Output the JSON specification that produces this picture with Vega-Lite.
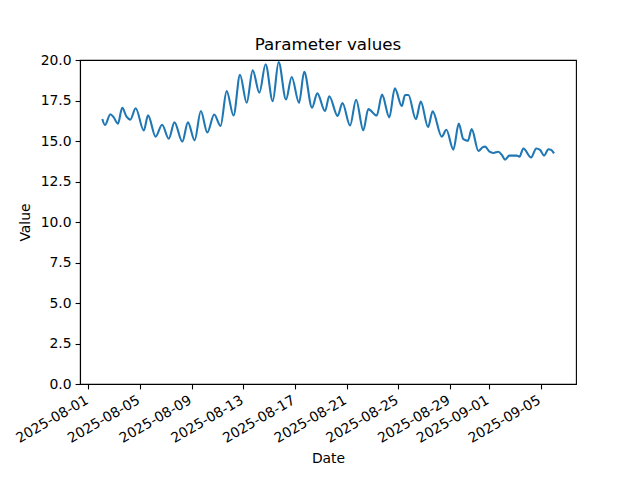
{
  "$schema": "https://vega.github.io/schema/vega-lite/v6.json",
  "width": 496,
  "height": 324,
  "autosize": "none",
  "padding": {"left": 80, "top": 60, "right": 64, "bottom": 96},
  "background": "white",
  "title": {"text": "Parameter values", "fontSize": 16.7, "font": "DejaVu Sans", "fontWeight": "normal", "color": "black", "offset": -14, "baseline": "alphabetic"},
  "data": {
    "values": [
      {"date": "2025-08-02T02:00:00Z", "value": 16.36},
      {"date": "2025-08-02T07:00:00Z", "value": 15.99},
      {"date": "2025-08-02T17:00:00Z", "value": 16.65},
      {"date": "2025-08-02T23:00:00Z", "value": 16.47},
      {"date": "2025-08-03T07:00:00Z", "value": 16.07},
      {"date": "2025-08-03T15:00:00Z", "value": 17.05},
      {"date": "2025-08-03T23:00:00Z", "value": 16.5},
      {"date": "2025-08-04T06:00:00Z", "value": 16.32},
      {"date": "2025-08-04T16:00:00Z", "value": 17.02},
      {"date": "2025-08-05T07:00:00Z", "value": 15.65},
      {"date": "2025-08-05T15:00:00Z", "value": 16.58},
      {"date": "2025-08-06T05:00:00Z", "value": 15.27},
      {"date": "2025-08-06T17:00:00Z", "value": 16.0},
      {"date": "2025-08-07T05:30:00Z", "value": 15.14},
      {"date": "2025-08-07T16:00:00Z", "value": 16.15},
      {"date": "2025-08-08T06:40:00Z", "value": 14.96},
      {"date": "2025-08-08T17:00:00Z", "value": 16.15},
      {"date": "2025-08-09T05:30:00Z", "value": 15.04},
      {"date": "2025-08-09T17:00:00Z", "value": 16.85},
      {"date": "2025-08-10T05:00:00Z", "value": 15.53},
      {"date": "2025-08-10T17:50:00Z", "value": 16.64},
      {"date": "2025-08-11T05:30:00Z", "value": 15.93},
      {"date": "2025-08-11T17:00:00Z", "value": 18.08},
      {"date": "2025-08-12T05:45:00Z", "value": 16.57},
      {"date": "2025-08-12T17:45:00Z", "value": 19.08},
      {"date": "2025-08-13T06:10:00Z", "value": 17.36},
      {"date": "2025-08-13T17:20:00Z", "value": 19.36},
      {"date": "2025-08-14T05:45:00Z", "value": 17.98},
      {"date": "2025-08-14T17:15:00Z", "value": 19.74},
      {"date": "2025-08-15T06:30:00Z", "value": 17.46},
      {"date": "2025-08-15T17:30:00Z", "value": 19.87},
      {"date": "2025-08-16T07:10:00Z", "value": 17.56},
      {"date": "2025-08-16T17:45:00Z", "value": 18.95},
      {"date": "2025-08-17T07:20:00Z", "value": 17.36},
      {"date": "2025-08-17T17:00:00Z", "value": 19.27},
      {"date": "2025-08-18T07:30:00Z", "value": 17.06},
      {"date": "2025-08-18T17:20:00Z", "value": 17.94},
      {"date": "2025-08-19T07:40:00Z", "value": 16.85},
      {"date": "2025-08-19T15:30:00Z", "value": 17.76},
      {"date": "2025-08-20T07:00:00Z", "value": 16.55},
      {"date": "2025-08-20T16:00:00Z", "value": 17.35},
      {"date": "2025-08-21T06:10:00Z", "value": 15.96},
      {"date": "2025-08-21T17:20:00Z", "value": 17.55},
      {"date": "2025-08-22T06:45:00Z", "value": 15.66},
      {"date": "2025-08-22T16:00:00Z", "value": 16.97},
      {"date": "2025-08-23T07:40:00Z", "value": 16.57},
      {"date": "2025-08-23T17:30:00Z", "value": 17.86},
      {"date": "2025-08-24T07:00:00Z", "value": 16.46},
      {"date": "2025-08-24T17:15:00Z", "value": 18.25},
      {"date": "2025-08-25T06:15:00Z", "value": 17.16},
      {"date": "2025-08-25T12:15:00Z", "value": 17.84},
      {"date": "2025-08-25T18:30:00Z", "value": 17.84},
      {"date": "2025-08-26T08:20:00Z", "value": 16.34},
      {"date": "2025-08-26T17:30:00Z", "value": 17.43},
      {"date": "2025-08-27T07:00:00Z", "value": 15.86},
      {"date": "2025-08-27T15:30:00Z", "value": 16.83},
      {"date": "2025-08-28T08:25:00Z", "value": 15.27},
      {"date": "2025-08-28T17:00:00Z", "value": 15.69},
      {"date": "2025-08-29T06:00:00Z", "value": 14.47},
      {"date": "2025-08-29T16:00:00Z", "value": 16.07},
      {"date": "2025-08-30T00:30:00Z", "value": 15.11},
      {"date": "2025-08-30T09:00:00Z", "value": 15.01},
      {"date": "2025-08-30T16:00:00Z", "value": 15.73},
      {"date": "2025-08-31T04:30:00Z", "value": 14.39},
      {"date": "2025-08-31T12:40:00Z", "value": 14.62},
      {"date": "2025-08-31T16:50:00Z", "value": 14.65},
      {"date": "2025-09-01T01:10:00Z", "value": 14.34},
      {"date": "2025-09-01T08:20:00Z", "value": 14.26},
      {"date": "2025-09-01T17:40:00Z", "value": 14.34},
      {"date": "2025-09-02T00:00:00Z", "value": 14.14},
      {"date": "2025-09-02T06:00:00Z", "value": 13.85},
      {"date": "2025-09-02T14:00:00Z", "value": 14.1},
      {"date": "2025-09-03T03:50:00Z", "value": 14.1},
      {"date": "2025-09-03T08:40:00Z", "value": 14.03},
      {"date": "2025-09-03T16:00:00Z", "value": 14.54},
      {"date": "2025-09-04T06:20:00Z", "value": 13.98},
      {"date": "2025-09-04T16:00:00Z", "value": 14.54},
      {"date": "2025-09-04T23:00:00Z", "value": 14.45},
      {"date": "2025-09-05T06:30:00Z", "value": 14.1},
      {"date": "2025-09-05T14:30:00Z", "value": 14.49},
      {"date": "2025-09-05T19:30:00Z", "value": 14.45},
      {"date": "2025-09-06T01:00:00Z", "value": 14.24}
    ]
  },
  "mark": {"type": "line", "color": "#1f77b4", "strokeWidth": 2.1, "interpolate": "monotone", "clip": true},
  "encoding": {
    "x": {
      "field": "date",
      "type": "temporal",
      "title": "Date",
      "scale": {
        "type": "utc",
        "domain": [
          {"year": 2025, "month": 7, "date": 31, "hours": 8, "minutes": 35, "utc": true},
          {"year": 2025, "month": 9, "date": 7, "hours": 17, "minutes": 45, "utc": true}
        ]
      },
      "axis": {
        "values": [
          {"year": 2025, "month": 8, "date": 1, "utc": true},
          {"year": 2025, "month": 8, "date": 5, "utc": true},
          {"year": 2025, "month": 8, "date": 9, "utc": true},
          {"year": 2025, "month": 8, "date": 13, "utc": true},
          {"year": 2025, "month": 8, "date": 17, "utc": true},
          {"year": 2025, "month": 8, "date": 21, "utc": true},
          {"year": 2025, "month": 8, "date": 25, "utc": true},
          {"year": 2025, "month": 8, "date": 29, "utc": true},
          {"year": 2025, "month": 9, "date": 1, "utc": true},
          {"year": 2025, "month": 9, "date": 5, "utc": true}
        ],
        "format": "%Y-%m-%d",
        "labelAngle": -30,
        "labelAlign": "right",
        "labelBaseline": "top",
        "labelPadding": 4,
        "labelOffset": -5,
        "titlePadding": 6
      }
    },
    "y": {
      "field": "value",
      "type": "quantitative",
      "title": "Value",
      "scale": {"domain": [0, 20], "nice": false, "zero": false},
      "axis": {"values": [0, 2.5, 5, 7.5, 10, 12.5, 15, 17.5, 20], "format": ".1f", "titlePadding": 8}
    }
  },
  "config": {
    "view": {"stroke": "black", "strokeWidth": 1.1},
    "axis": {
      "grid": false,
      "domainColor": "black",
      "domainWidth": 1.1,
      "tickColor": "black",
      "tickWidth": 1.1,
      "tickSize": 4.9,
      "labelFont": "DejaVu Sans",
      "labelFontSize": 13.9,
      "labelColor": "black",
      "labelPadding": 4,
      "labelFlush": false,
      "labelOverlap": false,
      "titleFont": "DejaVu Sans",
      "titleFontSize": 13.9,
      "titleFontWeight": "normal",
      "titleColor": "black"
    }
  }
}
